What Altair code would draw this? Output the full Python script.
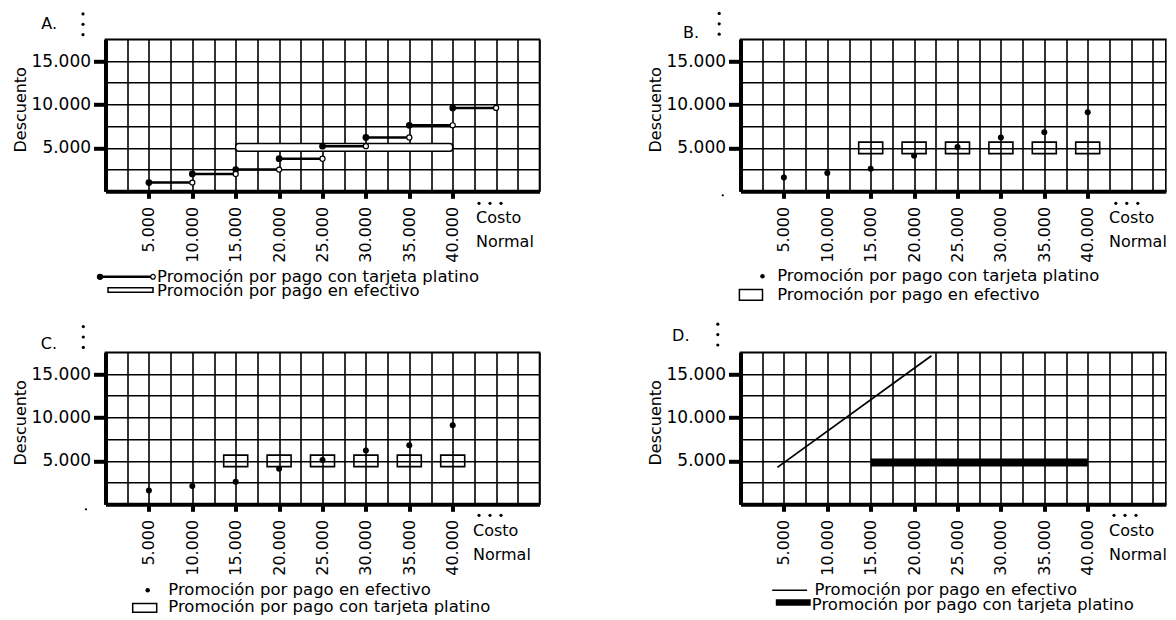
import altair as alt
import pandas as pd

FONT = "DejaVu Sans"

# ---------------- data ----------------
costos = [5000, 10000, 15000, 20000, 25000, 30000, 35000, 40000]

# Panel A: step segments (tarjeta platino) and a band (efectivo)
a_platino_desde = [5000, 10000, 15000, 20000, 25000, 30000, 35000, 40000]
a_platino_hasta = [10000, 15000, 20000, 25000, 30000, 35000, 40000, 45000]
a_platino_desc = [1000, 2000, 2500, 3750, 5200, 6200, 7600, 9600]
a_efectivo_desde = [15000]
a_efectivo_hasta = [40000]
a_efectivo_min = [4600]
a_efectivo_max = [5500]

# Panels B and C: points and boxes
bc_puntos_desc = [1600, 2100, 2600, 4100, 5100, 6200, 6800, 9100]
bc_cajas_costo = [15000, 20000, 25000, 30000, 35000, 40000]
bc_cajas_desc = [5000, 5000, 5000, 5000, 5000, 5000]

# Panel D: a line (efectivo) and a thick bar (platino)
d_linea_costo = [4250, 22000]
d_linea_desc = [4250, 17100]
d_barra_desde = [15000]
d_barra_hasta = [40000]
d_barra_desc = [4800]

PLATINO = "Promoción por pago con tarjeta platino"
EFECTIVO = "Promoción por pago en efectivo"
letras = ["A.", "B.", "C.", "D."]
titulo_y = "Descuento"
titulo_x = ["Costo", "Normal"]

# ---------------- helpers ----------------
TICK_X = "datum.value % 5000 === 0 && datum.value >= 5000 && datum.value <= 40000"
TICK_Y = "datum.value % 5000 === 0 && datum.value > 0"
FMT = "replace(format(datum.value, ','), ',', '.')"
YS = alt.Scale(domain=[0, 17500], nice=False, zero=False)
H = 152
PX = 8.68  # pixels per 1000
LEG = 16.5


def xs(maxv):
    return alt.Scale(domain=[0, maxv], nice=False, zero=False)


def x_axis(maxv, title_x):
    return alt.Axis(
        values=list(range(0, maxv + 1, 2500)),
        grid=True, gridColor="black", gridWidth=1.6, gridOpacity=1,
        domainColor="black", domainWidth=4,
        tickColor="black", tickWidth=4, tickSize=7,
        tickOpacity={"condition": {"test": TICK_X, "value": 1}, "value": 0},
        labelExpr="(" + TICK_X + ") ? " + FMT + " : ''",
        labelAngle=270, labelFontSize=16, labelPadding=8, labelColor="black",
        labelFont=FONT, labelOverlap=False, labelFlush=False, labelBound=False,
        title=titulo_x, titleFont=FONT, titleFontSize=16, titleFontWeight="normal",
        titleColor="black", titleAlign="left", titleBaseline="top",
        titleX=title_x, titleY=18, titleLineHeight=24,
    )


Y_AXIS = alt.Axis(
    values=list(range(0, 17501, 2500)),
    grid=True, gridColor="black", gridWidth=1.6, gridOpacity=1,
    domainColor="black", domainWidth=4,
    tickColor="black", tickWidth=4, tickSize=12,
    tickOpacity={"condition": {"test": TICK_Y, "value": 1}, "value": 0},
    labelExpr="(" + TICK_Y + ") ? " + FMT + " : ''",
    labelFontSize=17, labelPadding=3, labelColor="black", labelFont=FONT,
    labelOverlap=False, labelFlush=False, labelBound=False,
    title=titulo_y, titleFont=FONT, titleFontSize=16, titleFontWeight="normal",
    titleColor="black", titlePadding=3, titleY=70,
)

ONE = pd.DataFrame({"k": [0]})


def txt(text, x, y, size=16, align="left"):
    return alt.Chart(pd.DataFrame({"t": [text]})).mark_text(
        font=FONT, fontSize=size, align=align, baseline="middle", color="black"
    ).encode(x=alt.value(x), y=alt.value(y), text="t:N")


def dot(x, y, size=10):
    return alt.Chart(ONE).mark_circle(size=size, color="black", opacity=1).encode(
        x=alt.value(x), y=alt.value(y))


def vdots(x, cy):
    return [dot(x, cy - 10.4), dot(x, cy), dot(x, cy + 10.4)]


def hdots(x, y):
    return [dot(x + 2, y), dot(x + 13, y), dot(x + 24, y)]


class Panel:
    def __init__(self, maxv, title_x):
        self.maxv = maxv
        self.title_x = title_x

    def X(self, field):
        return alt.X(field, type="quantitative", scale=xs(self.maxv),
                     axis=x_axis(self.maxv, self.title_x))

    def Y(self, field):
        return alt.Y(field, type="quantitative", scale=YS, axis=Y_AXIS)


BOX = "M-1,-0.48L1,-0.48L1,0.48L-1,0.48Z"

MA = 50000
MB = 49000

# ---------------- Panel A ----------------
pa = Panel(MA, 370)
a_plat = pd.DataFrame({"desde": a_platino_desde, "hasta": a_platino_hasta, "desc": a_platino_desc})
a_ef = pd.DataFrame({"desde": a_efectivo_desde, "hasta": a_efectivo_hasta,
                     "lo": a_efectivo_min, "hi": a_efectivo_max})

panel_a = alt.layer(
    alt.Chart(a_ef).mark_rect(fill="white", stroke="black", strokeWidth=1.5, cornerRadius=3).encode(
        x=pa.X("desde"), x2="hasta", y=pa.Y("lo"), y2="hi"),
    alt.Chart(a_plat).mark_rule(color="black", strokeWidth=2.5).encode(
        x=pa.X("desde"), x2="hasta", y=pa.Y("desc")),
    alt.Chart(a_plat).mark_point(filled=True, shape="circle", size=45, color="black", opacity=1).encode(
        x=pa.X("desde"), y=pa.Y("desc")),
    alt.Chart(a_plat).mark_point(filled=True, shape="circle", size=26, fill="white", stroke="black",
                                 strokeWidth=1.2, opacity=1).encode(x=pa.X("hasta"), y=pa.Y("desc")),
    # panel letter and ellipses
    txt(letras[0], -48.5, -15, align="right"),
    *vdots(-22.5, -15),
    *hdots(371.5, 164),
    # legend
    alt.Chart(ONE).mark_rule(color="black", strokeWidth=2.5).encode(
        x=alt.value(-5.5), x2=alt.value(47.5), y=alt.value(237.5)),
    alt.Chart(ONE).mark_point(filled=True, shape="circle", size=40, color="black", opacity=1).encode(
        x=alt.value(-5.5), y=alt.value(237.5)),
    alt.Chart(ONE).mark_point(filled=True, shape="circle", size=22, fill="white", stroke="black",
                              strokeWidth=1.2, opacity=1).encode(x=alt.value(47.5), y=alt.value(237.5)),
    txt(PLATINO, 51.5, 237.5, size=LEG),
    alt.Chart(ONE).mark_rect(fill="white", stroke="black", strokeWidth=1.5).encode(
        x=alt.value(2.5), x2=alt.value(47.5), y=alt.value(248.5), y2=alt.value(253)),
    txt(EFECTIVO, 51.5, 251.5, size=LEG),
).properties(width=MA / 1000 * PX, height=H)

# ---------------- Panels B and C ----------------
bc_p = pd.DataFrame({"costo": costos, "desc": bc_puntos_desc})
bc_c = pd.DataFrame({"costo": bc_cajas_costo, "desc": bc_cajas_desc})


def panel_bc(maxv, letter, lx, ly, dx, dy, hx, hy, tiny, title_x, leg, names):
    p = Panel(maxv, title_x)
    dot_name, box_name = names
    return alt.layer(
        alt.Chart(bc_c).mark_point(shape=BOX, size=576, filled=False, color="black", strokeWidth=1.6,
                                   opacity=1).encode(x=p.X("costo"), y=p.Y("desc")),
        alt.Chart(bc_p).mark_point(filled=True, shape="circle", size=36, color="black", opacity=1).encode(
            x=p.X("costo"), y=p.Y("desc")),
        txt(letter, lx, ly, align="right"),
        *vdots(dx, dy),
        *hdots(hx, hy),
        dot(tiny[0], tiny[1], size=5),
        # legend
        alt.Chart(ONE).mark_point(filled=True, shape="circle", size=20, color="black", opacity=1).encode(
            x=alt.value(leg[0]), y=alt.value(leg[1])),
        txt(dot_name, leg[2], leg[1], size=LEG),
        alt.Chart(ONE).mark_rect(fill="white", stroke="black", strokeWidth=1.5).encode(
            x=alt.value(leg[3]), x2=alt.value(leg[4]), y=alt.value(leg[5]), y2=alt.value(leg[6])),
        txt(box_name, leg[2], leg[7], size=LEG),
    ).properties(width=maxv / 1000 * PX, height=H)


panel_b = panel_bc(MB, letras[1], -41.5, -6, -21.3, -15.5, 373.3, 164, (-17.7, 156), 368,
                   (22, 237, 36.7, -1.1, 22, 250.3, 261, 256), (PLATINO, EFECTIVO))
panel_c = panel_bc(MA, letras[2], -48.5, -8, -22.2, -15.3, 371.5, 163, (-19.5, 157), 367,
                   (42.2, 238, 62.8, 27.2, 51.2, 251.3, 260, 255), (EFECTIVO, PLATINO))

# ---------------- Panel D ----------------
pd_ = Panel(MB, 368)
d_l = pd.DataFrame({"costo": d_linea_costo, "desc": d_linea_desc})
d_b = pd.DataFrame({"desde": d_barra_desde, "hasta": d_barra_hasta, "desc": d_barra_desc})

panel_d = alt.layer(
    alt.Chart(d_l).mark_line(color="black", strokeWidth=1.8).encode(x=pd_.X("costo"), y=pd_.Y("desc")),
    alt.Chart(d_b).mark_rule(color="black", strokeWidth=8, strokeCap="butt").encode(
        x=pd_.X("desde"), x2="hasta", y=pd_.Y("desc")),
    txt(letras[3], -51, -16, align="right"),
    *vdots(-22.7, -17.7),
    *hdots(371.5, 163),
    # legend
    alt.Chart(ONE).mark_rule(color="black", strokeWidth=1.5).encode(
        x=alt.value(31.7), x2=alt.value(66.6), y=alt.value(238)),
    txt(EFECTIVO, 74, 238, size=LEG),
    alt.Chart(ONE).mark_rect(color="black").encode(
        x=alt.value(35.3), x2=alt.value(70.2), y=alt.value(247), y2=alt.value(253.5)),
    txt(PLATINO, 71.3, 252.5, size=LEG),
).properties(width=MB / 1000 * PX, height=H)

chart = alt.concat(
    panel_a, panel_b, panel_c, panel_d,
    columns=2, spacing={"row": 161, "column": 201}, bounds="flush",
).properties(
    padding={"left": 2.5, "top": 2.3, "right": 0, "bottom": 0}
).configure(font=FONT).configure_view(stroke="black", strokeWidth=1.6)

chart.save("out.html", embed_options={"renderer": "svg", "actions": False})
